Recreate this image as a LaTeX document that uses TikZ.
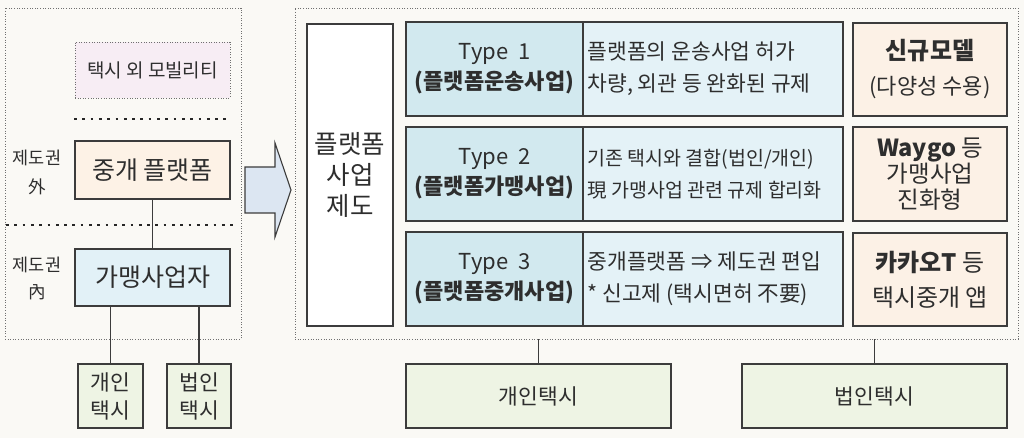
\documentclass[tikz,border=0pt]{standalone}
\usepackage{fontspec}
\setmainfont{Noto Sans CJK KR}
\definecolor{bgc}{HTML}{FAF9F5}
\definecolor{linec}{HTML}{3C3C3C}
\definecolor{dotc}{HTML}{707070}
\definecolor{txtc}{HTML}{2E2E2E}
\definecolor{pinkc}{HTML}{F7EDF4}
\definecolor{orangec}{HTML}{FDF2E6}
\definecolor{bluec}{HTML}{E2F1F7}
\definecolor{greenc}{HTML}{EEF4E4}
\definecolor{typec}{HTML}{D2E9EF}
\definecolor{descc}{HTML}{E4F2F7}
\definecolor{rightc}{HTML}{FCF1E6}
\definecolor{arrowc}{HTML}{DCE6F2}
\tikzset{
  box/.style={draw=linec, line width=1.3pt, rectangle, inner sep=0pt, text=txtc, align=center},
  dotbox/.style={draw=dotc, line width=0.9pt, dash pattern=on 1pt off 1.6pt, rectangle, inner sep=0pt},
  sep/.style={draw=black!85, line width=2.7pt, dash pattern=on 2.7pt off 5.6pt},
  conn/.style={draw=linec, line width=1.3pt},
  lab/.style={text=txtc, inner sep=0pt, align=center}
}
\begin{document}
\begin{tikzpicture}[x=1pt,y=-1pt]
\fill[bgc] (0,0) rectangle (1024,438);
\useasboundingbox (0,0) rectangle (1024,438);
% left column
\node[dotbox, minimum width=236pt, minimum height=331pt] (outL) at (123,173.5) {};
\node[dotbox, fill=pinkc, minimum width=155pt, minimum height=56pt, text=txtc, font=\fontsize{19}{22}\selectfont] (mob) at (152.5,70) {택시 외 모빌리티};
\coordinate (s1a) at (74,119);
\coordinate (s1b) at (231,119);
\draw[sep] (s1a) -- (s1b);
\node[box, fill=orangec, minimum width=155pt, minimum height=58pt, font=\fontsize{25}{28}\selectfont] (jg) at (152.5,170) {중개 플랫폼};
\coordinate (s2a) at (6,225);
\coordinate (s2b) at (234,225);
\draw[sep] (s2a) -- (s2b);
\node[box, fill=bluec, minimum width=155pt, minimum height=57pt, font=\fontsize{25}{28}\selectfont] (gm) at (152.5,277.5) {가맹사업자};
\node[box, fill=greenc, minimum width=65pt, minimum height=64pt, font=\fontsize{21.5}{28}\selectfont] (gi) at (110.5,396) {개인\\택시};
\node[box, fill=greenc, minimum width=64pt, minimum height=64pt, font=\fontsize{21.5}{28}\selectfont] (bi) at (199,396) {법인\\택시};
\draw[conn] (jg.south) -- (gm.north);
\draw[conn] (gi.north) -- (gi.north |- gm.south);
\draw[conn] (bi.north) -- (bi.north |- gm.south);
\node[lab, font=\fontsize{17.5}{29}\selectfont] (out) at (37,172) {제도권\\外};
\node[lab, font=\fontsize{17.5}{27}\selectfont] (inn) at (37,278.5) {제도권\\內};
% arrow
\draw[draw=linec, line width=1.1pt, fill=arrowc, line join=miter] (245,167) -- (275,167) -- (275,143) -- (291,190) -- (275,237) -- (275,213) -- (245,213) -- cycle;
% right block
\node[dotbox, minimum width=723pt, minimum height=331pt] (outR) at (656.5,173.5) {};
\node[box, fill=white, minimum width=86pt, minimum height=302pt, font=\fontsize{25.5}{31}\selectfont] (pf) at (350,175) {플랫폼\\사업\\제도};
% types
\tikzset{typebox/.style={box, fill=typec, minimum width=177pt, minimum height=94pt, font=\fontsize{22}{30}\selectfont}}
\node[typebox] (t1) at (494.5,69) {Type\ \ 1\\\textbf{(플랫폼운송사업)}};
\node[typebox] (t2) at (494.5,174) {Type\ \ 2\\\textbf{(플랫폼가맹사업)}};
\node[typebox] (t3) at (494.5,279) {Type\ \ 3\\\textbf{(플랫폼중개사업)}};
\tikzset{descbox/.style={box, fill=descc, minimum width=260pt, minimum height=94pt},
  desctext/.style={lab, anchor=west, align=left, font=\fontsize{21.5}{32}\selectfont}}
\node[descbox] (d1) at (713,69) {};
\node[descbox] (d2) at (713,174) {};
\node[descbox] (d3) at (713,279) {};
\node[desctext] (d1t) at ([xshift=5pt]d1.west) {플랫폼의 운송사업 허가\\차량, 외관 등 완화된 규제};
\node[desctext, font=\fontsize{19.5}{32}\selectfont] (d2t) at ([xshift=5pt]d2.west) {기존 택시와 결합(법인/개인)\\現 가맹사업 관련 규제 합리화};
\node[desctext] (d3t) at ([xshift=5pt]d3.west) {중개플랫폼 ⇒ 제도권 편입\\{*} 신고제 (택시면허 不要)};
\node[box, fill=rightc, minimum width=154pt, minimum height=93pt, font=\fontsize{22}{35}\selectfont] (r1) at (930,69.5) {{\fontsize{24}{35}\selectfont\textbf{신규모델}}\\(다양성 수용)};
\node[box, fill=rightc, minimum width=154pt, minimum height=94pt, font=\fontsize{23.5}{26}\selectfont] (r2) at (930,174) {\textbf{Waygo} 등\\가맹사업\\진화형};
\node[box, fill=rightc, minimum width=154pt, minimum height=93pt, font=\fontsize{24}{35}\selectfont] (r3) at (930,279.5) {\textbf{카카오T} 등\\택시중개 앱};
% bottom
\node[box, fill=greenc, minimum width=265pt, minimum height=64pt, font=\fontsize{21.5}{24}\selectfont] (pg) at (538.5,396) {개인택시};
\node[box, fill=greenc, minimum width=265pt, minimum height=64pt, font=\fontsize{21.5}{24}\selectfont] (pb) at (874.5,396) {법인택시};
\draw[conn] (pg.north) -- (pg.north |- outR.south);
\draw[conn] (pb.north) -- (pb.north |- outR.south);
\end{tikzpicture}
\end{document}
